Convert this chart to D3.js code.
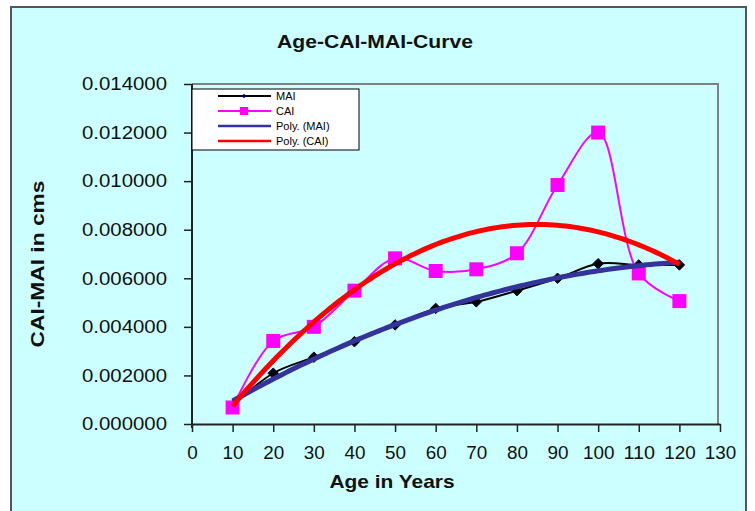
<!DOCTYPE html>
<html>
<head>
<meta charset="utf-8">
<script src="https://cdn.jsdelivr.net/npm/d3@7"></script>
<style>
  body { margin: 0; background: #ffffff; }
  text { font-family: "Liberation Sans", Arial, sans-serif; }
</style>
</head>
<body>
<script>
var svgWidth = 755;
var svgHeight = 511;

// ages (x) and the two series
var ages = [10, 20, 30, 40, 50, 60, 70, 80, 90, 100, 110, 120];
var maiValues = [0.00075, 0.00209, 0.00275, 0.00339, 0.00408, 0.00476, 0.00503, 0.00549, 0.00600, 0.00660, 0.00655, 0.00655];
var caiValues = [0.00068, 0.00342, 0.00400, 0.00549, 0.00682, 0.00630, 0.00637, 0.00703, 0.00984, 0.01200, 0.00620, 0.00506];

var xTicks = [0, 10, 20, 30, 40, 50, 60, 70, 80, 90, 100, 110, 120, 130];
var yTicks = [0, 0.002, 0.004, 0.006, 0.008, 0.010, 0.012, 0.014];

var legendLabels = ["MAI", "CAI", "Poly. (MAI)", "Poly. (CAI)"];

var plot = { left: 192, right: 718, top: 84, bottom: 424 };

var svg = d3.select("body")
  .append("svg")
  .attr("width", svgWidth)
  .attr("height", svgHeight);

// chart area
svg.append("rect")
  .attr("x", 11)
  .attr("y", 7)
  .attr("width", 735)
  .attr("height", 520)
  .attr("fill", "#ccffff")
  .attr("stroke", "#555555")
  .attr("stroke-width", 2);

var xScale = d3.scaleLinear().domain([0, 130]).range([plot.left, 720]);
var yScale = d3.scaleLinear().domain([0, 0.014]).range([plot.bottom, plot.top]);

// plot area border (grey top / right)
svg.append("path")
  .attr("d", `M${plot.left},${plot.top}H${plot.right}V${plot.bottom}`)
  .attr("fill", "none")
  .attr("stroke", "#808080")
  .attr("stroke-width", 2);

// axes
var xAxis = d3.axisBottom(xScale).tickValues(xTicks).tickSize(8).tickPadding(14).tickSizeOuter(0);
var yAxis = d3.axisLeft(yScale).tickValues(yTicks).tickSize(8).tickPadding(17)
  .tickFormat(d3.format(".6f")).tickSizeOuter(0);

var gx = svg.append("g")
  .attr("transform", `translate(0, ${plot.bottom})`)
  .call(xAxis);
var gy = svg.append("g")
  .attr("transform", `translate(${plot.left}, 0)`)
  .call(yAxis);

[gx, gy].forEach(function(g) {
  g.select(".domain").attr("stroke", "#222222").attr("stroke-width", 2);
  g.selectAll(".tick line").attr("stroke", "#222222").attr("stroke-width", 1.5);
  g.selectAll(".tick text")
    .attr("fill", "#111111")
    .style("font-size", "18px")
    .style("font-family", "'Liberation Sans', Arial, sans-serif");
});
gx.selectAll(".tick text")
  .attr("textLength", d => String(d).length * 10.5)
  .attr("lengthAdjust", "spacingAndGlyphs");
gy.selectAll(".tick text")
  .attr("textLength", 85)
  .attr("lengthAdjust", "spacingAndGlyphs");
gy.select(".domain").attr("d", `M0,${plot.bottom + 4}V${plot.top}`);

// least-squares quadratic trendline
function polyFit(xs, ys) {
  var n = xs.length, s = [0, 0, 0, 0, 0], t = [0, 0, 0];
  for (var i = 0; i < n; i++) {
    var p = 1;
    for (var k = 0; k < 5; k++) { s[k] += p; if (k < 3) t[k] += p * ys[i]; p *= xs[i]; }
  }
  var m = [[s[0], s[1], s[2], t[0]], [s[1], s[2], s[3], t[1]], [s[2], s[3], s[4], t[2]]];
  for (var c = 0; c < 3; c++) {
    for (var r = c + 1; r < 3; r++) {
      var f = m[r][c] / m[c][c];
      for (var j = c; j < 4; j++) m[r][j] -= f * m[c][j];
    }
  }
  var a = [0, 0, 0];
  for (var r2 = 2; r2 >= 0; r2--) {
    var v = m[r2][3];
    for (var j2 = r2 + 1; j2 < 3; j2++) v -= m[r2][j2] * a[j2];
    a[r2] = v / m[r2][r2];
  }
  return function(x) { return a[0] + a[1] * x + a[2] * x * x; };
}

var maiData = ages.map((d, i) => ({ x: d, y: maiValues[i] }));
var caiData = ages.map((d, i) => ({ x: d, y: caiValues[i] }));

var smooth = d3.line()
  .x(d => xScale(d.x))
  .y(d => yScale(d.y))
  .curve(d3.curveCatmullRom.alpha(0.5));

var straight = d3.line()
  .x(d => xScale(d.x))
  .y(d => yScale(d.y));

// MAI series
svg.append("path")
  .datum(maiData)
  .attr("d", smooth)
  .attr("fill", "none")
  .attr("stroke", "#000000")
  .attr("stroke-width", 2);

svg.selectAll(".mai-dot")
  .data(maiData).enter()
  .append("path")
  .attr("class", "mai-dot")
  .attr("d", d3.symbol().type(d3.symbolDiamond2).size(70))
  .attr("transform", d => `translate(${xScale(d.x)},${yScale(d.y)})`)
  .attr("fill", "#000000")
  .attr("stroke", "#000033")
  .attr("stroke-width", 1);

// CAI series
svg.append("path")
  .datum(caiData)
  .attr("d", smooth)
  .attr("fill", "none")
  .attr("stroke", "#ff00ff")
  .attr("stroke-width", 2);

svg.selectAll(".cai-dot")
  .data(caiData).enter()
  .append("rect")
  .attr("class", "cai-dot")
  .attr("x", d => xScale(d.x) - 7)
  .attr("y", d => yScale(d.y) - 7)
  .attr("width", 14)
  .attr("height", 14)
  .attr("fill", "#ff00ff");

// trendlines
var fitMai = polyFit(ages, maiValues);
var fitCai = polyFit(ages, caiValues);
var fitX = d3.range(10, 120.01, 1);

svg.append("path")
  .datum(fitX.map(x => ({ x: x, y: fitMai(x) })))
  .attr("d", straight)
  .attr("fill", "none")
  .attr("stroke", "#333399")
  .attr("stroke-width", 5);

svg.append("path")
  .datum(fitX.map(x => ({ x: x, y: fitCai(x) })))
  .attr("d", straight)
  .attr("fill", "none")
  .attr("stroke", "#ff0000")
  .attr("stroke-width", 5);

// legend
var legend = svg.append("g").attr("transform", "translate(192, 89)");
legend.append("rect")
  .attr("width", 167)
  .attr("height", 61)
  .attr("fill", "#ffffff")
  .attr("stroke", "#000000")
  .attr("stroke-width", 1);

var legendColors = ["#000000", "#ff00ff", "#333399", "#ff0000"];
legendLabels.forEach(function(label, i) {
  var y = 7 + i * 15;
  legend.append("line")
    .attr("x1", 26).attr("x2", 79)
    .attr("y1", y).attr("y2", y)
    .attr("stroke", legendColors[i])
    .attr("stroke-width", i < 2 ? 2 : 2.5);
  if (i === 0) {
    legend.append("path")
      .attr("d", d3.symbol().type(d3.symbolDiamond2).size(14))
      .attr("transform", `translate(52,${y})`)
      .attr("fill", "#000066");
  }
  if (i === 1) {
    legend.append("rect")
      .attr("x", 48).attr("y", y - 4)
      .attr("width", 8).attr("height", 8)
      .attr("fill", "#ff00ff");
  }
  legend.append("text")
    .attr("x", 84)
    .attr("y", y + 4)
    .style("font-size", "11px")
    .attr("fill", "#000000")
    .text(label);
});

// titles
svg.append("text")
  .attr("x", 375)
  .attr("y", 48)
  .attr("text-anchor", "middle")
  .attr("textLength", 196)
  .attr("lengthAdjust", "spacingAndGlyphs")
  .style("font-size", "19px")
  .style("font-weight", "bold")
  .attr("fill", "#111111")
  .text("Age-CAI-MAI-Curve");

svg.append("text")
  .attr("x", 392)
  .attr("y", 488)
  .attr("text-anchor", "middle")
  .attr("textLength", 125)
  .attr("lengthAdjust", "spacingAndGlyphs")
  .style("font-size", "19px")
  .style("font-weight", "bold")
  .attr("fill", "#111111")
  .text("Age in Years");

svg.append("text")
  .attr("transform", "translate(44, 264) rotate(-90)")
  .attr("text-anchor", "middle")
  .attr("textLength", 167)
  .attr("lengthAdjust", "spacingAndGlyphs")
  .style("font-size", "19px")
  .style("font-weight", "bold")
  .attr("fill", "#111111")
  .text("CAI-MAI in cms");
</script>
</body>
</html>
